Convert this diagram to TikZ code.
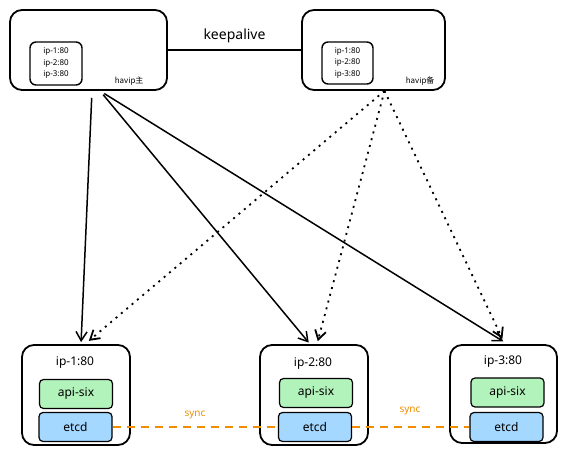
\documentclass[tikz,border=0pt]{standalone}
\usepackage{fontspec}
\setmainfont{Noto Sans}
\newfontfamily\cjk{Noto Sans CJK SC}
\usetikzlibrary{arrows.meta}
\definecolor{apigreen}{HTML}{B2F2BB}
\definecolor{etcdblue}{HTML}{A5D8FF}
\definecolor{syncorange}{HTML}{F08C00}

\begin{document}
\begin{tikzpicture}[x=1pt, y=-1pt,
    hostbox/.style={draw, line width=1.8pt, rounded corners=12pt, inner sep=0pt},
    ipbox/.style={draw, line width=1.4pt, rounded corners=6pt, align=center,
      inner sep=0pt, font=\fontsize{8}{11.5}\selectfont},
    svcbox/.style={draw, line width=1.2pt, rounded corners=4pt, inner sep=0pt,
      minimum width=73pt, minimum height=29pt, font=\fontsize{12}{14}\selectfont},
    vip/.style={line width=1.5pt, -{Straight Barb[length=9pt, width=11pt]}},
    vipbak/.style={line width=1.8pt, dash pattern=on 2pt off 5pt,
      -{Straight Barb[length=9pt, width=11pt]}},
    sync/.style={syncorange, line width=2pt, dash pattern=on 8pt off 6pt}
  ]
    \useasboundingbox (0,0) rectangle (568,454);
    % havip nodes
    \node[hostbox, minimum width=157pt, minimum height=80pt] (master) at (88.5,50) {};
    \node[ipbox, minimum width=52pt, minimum height=43pt] (masterips) at (56,63.5)
      {ip-1:80\\ip-2:80\\ip-3:80};
    \node[anchor=base east, font=\cjk\fontsize{8}{9}\selectfont] (masterlbl) at (147,84) {havip主};
    \node[hostbox, minimum width=143pt, minimum height=80pt] (backup) at (373.5,50) {};
    \node[ipbox, minimum width=51pt, minimum height=42pt] (backupips) at (347.5,63)
      {ip-1:80\\ip-2:80\\ip-3:80};
    \node[anchor=base east, font=\cjk\fontsize{8}{9}\selectfont] (backuplbl) at (438,84) {havip备};
    % keepalive
    \draw[line width=1.4pt] (master.east) -- (backup.west)
      node[midway, above=3pt, font=\fontsize{14}{16}\selectfont] (kalbl) {keepalive};
    % servers
    \node[hostbox, minimum width=108pt, minimum height=100pt] (srvA) at (76,395) {};
    \node[font=\fontsize{12}{14}\selectfont] (srvAlbl) at (75,363) {ip-1:80};
    \node[svcbox, fill=apigreen] (apiA) at (76,394) {api-six};
    \node[svcbox, fill=etcdblue] (etcdA) at (75.5,427) {etcd};
    \node[hostbox, minimum width=108pt, minimum height=100pt] (srvB) at (314,395) {};
    \node[font=\fontsize{12}{14}\selectfont] (srvBlbl) at (313,364) {ip-2:80};
    \node[svcbox, fill=apigreen] (apiB) at (316,393) {api-six};
    \node[svcbox, fill=etcdblue] (etcdB) at (315,427) {etcd};
    \node[hostbox, minimum width=107pt, minimum height=98pt] (srvC) at (503.5,394) {};
    \node[font=\fontsize{12}{14}\selectfont] (srvClbl) at (503,362) {ip-3:80};
    \node[svcbox, fill=apigreen] (apiC) at (507.5,392.5) {api-six};
    \node[svcbox, fill=etcdblue] (etcdC) at (506.5,427) {etcd};
    % master -> servers
    \draw[vip, shorten <=7pt, shorten >=2pt] ([xshift=3.5pt]master.south) -- ([xshift=5pt]srvA.north);
    \draw[vip, shorten <=5pt, shorten >=2pt] ([xshift=11.5pt]master.south) -- ([xshift=-4pt]srvB.north);
    \draw[vip, shorten <=5pt, shorten >=5pt] ([xshift=11.5pt]master.south) -- ([xshift=4pt]srvC.north);
    % backup -> servers
    \draw[vipbak, shorten >=5pt] ([xshift=11pt]backup.south) -- ([xshift=9pt]srvA.north);
    \draw[vipbak, shorten >=3pt] ([xshift=11pt]backup.south) -- ([xshift=3pt]srvB.north);
    \draw[vipbak, shorten >=6pt] ([xshift=11pt]backup.south) -- ([xshift=1.5pt]srvC.north);
    % etcd sync
    \draw[sync] (etcdA.east) -- (etcdB.west);
    \draw[sync] (etcdB.east) -- (etcdC.west);
    \node[syncorange, font=\fontsize{10}{12}\selectfont] (syncAB) at (195,415) {sync};
    \node[syncorange, font=\fontsize{10}{12}\selectfont] (syncBC) at (410,411) {sync};
\end{tikzpicture}
\end{document}
